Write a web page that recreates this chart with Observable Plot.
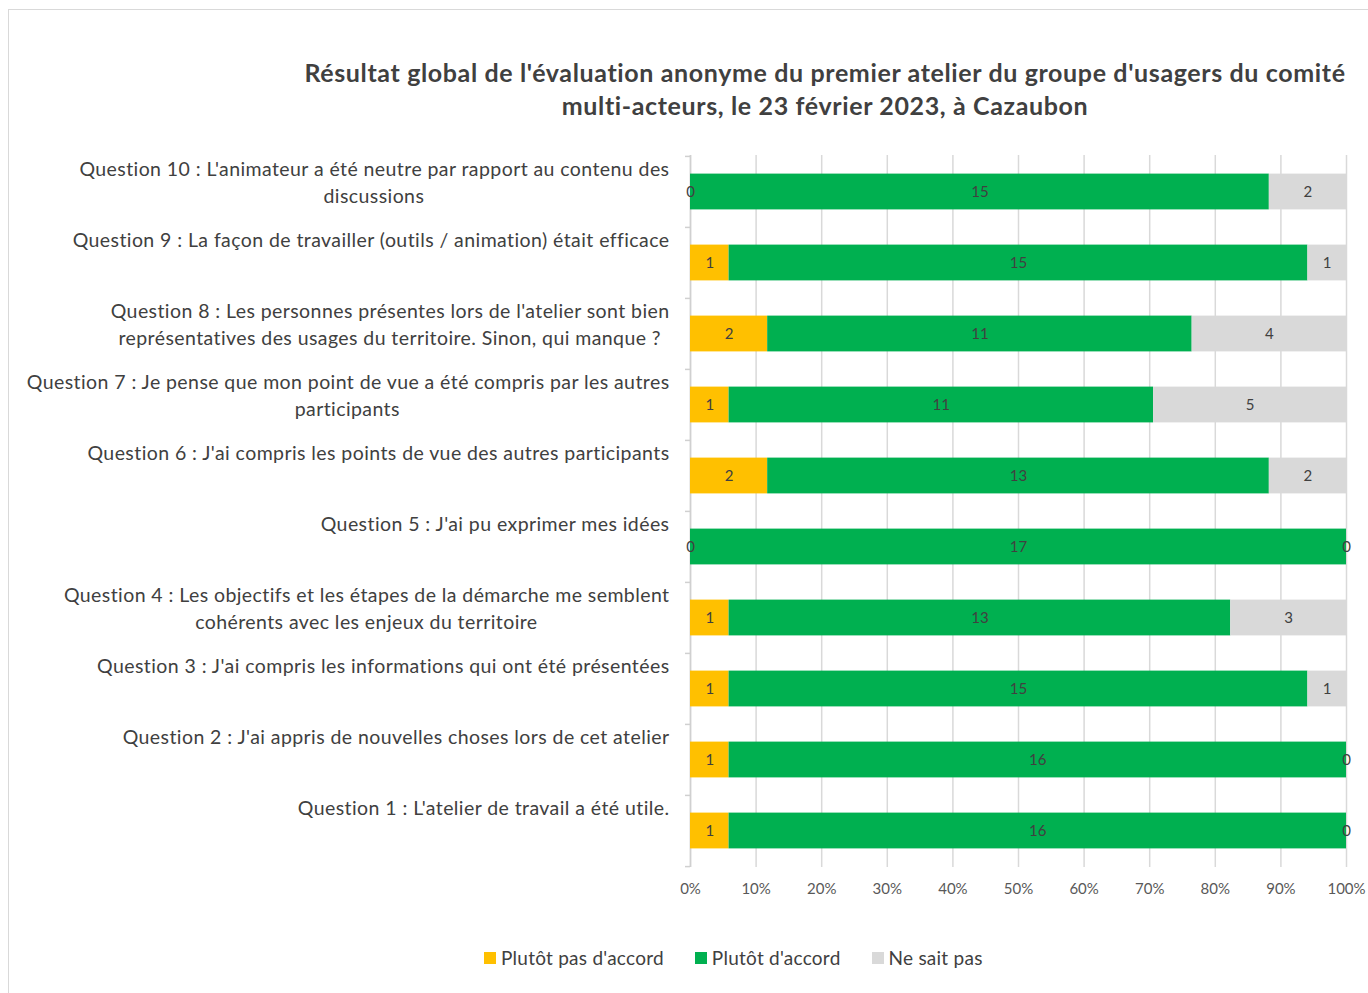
<!DOCTYPE html>
<html><head><meta charset="utf-8">
<script src="https://cdn.jsdelivr.net/npm/d3@7"></script>
<script src="https://cdn.jsdelivr.net/npm/@observablehq/plot@0.6"></script>
<style>
body{margin:0;background:#fff;font-family:Lato,"Open Sans",sans-serif;color:#404040;}
#frame{position:absolute;left:8px;top:9px;width:1400px;height:1000px;border:1px solid #d9d9d9;}
#title{position:absolute;left:225px;top:56px;width:1200px;text-align:center;font-size:25px;letter-spacing:0.63px;font-weight:bold;line-height:33px;color:#404040;}
#chart{position:absolute;left:0;top:140px;}
#legend{position:absolute;left:484px;top:946px;display:flex;font-size:19px;letter-spacing:0.25px;color:#404040;white-space:nowrap;}
#legend span.sw{display:inline-block;width:12px;height:12px;margin-right:5px;vertical-align:middle;position:relative;top:-2px}
#legend .it{margin-right:31px}
</style></head>
<body>
<div id="frame"></div>
<div id="title">Résultat global de l'évaluation anonyme du premier atelier du groupe d'usagers du comité<br>multi-acteurs, le 23 février 2023, à Cazaubon</div>
<div id="chart"></div>
<div id="legend"></div>
<script>
const questions = ["Question 10","Question 9","Question 8","Question 7","Question 6","Question 5","Question 4","Question 3","Question 2","Question 1"];
const labelLine1 = [
 "Question 10 : L'animateur a été neutre par rapport au contenu des",
 "Question 9 : La façon de travailler (outils / animation) était efficace",
 "Question 8 : Les personnes présentes lors de l'atelier sont bien",
 "Question 7 : Je pense que mon point de vue a été compris par les autres",
 "Question 6 : J'ai compris les points de vue des autres participants",
 "Question 5 : J'ai pu exprimer mes idées",
 "Question 4 : Les objectifs et les étapes de la démarche me semblent",
 "Question 3 : J'ai compris les informations qui ont été présentées",
 "Question 2 : J'ai appris de nouvelles choses lors de cet atelier",
 "Question 1 : L'atelier de travail a été utile."
];
const labelLine2 = [
 "discussions", "", "représentatives des usages du territoire. Sinon, qui manque ?",
 "participants", "", "", "cohérents avec les enjeux du territoire", "", "", ""
];
const categories = ["Plutôt pas d'accord","Plutôt d'accord","Ne sait pas"];
const colors = ["#FFC000","#00B050","#D9D9D9"];
const pasDaccord = [0,1,2,1,2,0,1,1,1,1];
const daccord    = [15,15,11,11,13,17,13,15,16,16];
const neSaitPas  = [2,1,4,5,2,0,3,1,0,0];
const xTicks = [0,0.1,0.2,0.3,0.4,0.5,0.6,0.7,0.8,0.9,1];

const series = [pasDaccord, daccord, neSaitPas];
const data = [];
questions.forEach((q,i)=>categories.forEach((c,j)=>data.push({q, cat:c, n: series[j][i]})));

const W = 1368, mL = 690, mR = 22, mT = 15, mB = 50, plotH = 712;
const H = mT + plotH + mB;
const step = plotH / questions.length;
const fontLab = "Lato";
const labSize = 19.5;
const ls = 0.42;
const canvas = document.createElement("canvas").getContext("2d");
canvas.font = `${labSize}px ${fontLab}`;
const measure = s => canvas.measureText(s).width + s.length * ls;

const labelData = questions.map((q,i)=>({q, l1: labelLine1[i], l2: labelLine2[i]}));
const secondLineMarks = labelData.filter(d=>d.l2).map(d =>
  Plot.text([d], {y: "q", text: "l2", frameAnchor: "left", textAnchor: "middle",
    dx: -21 - measure(d.l1)/2, dy: 5, fontSize: labSize, fill: "#404040"})
);

const stackOpts = {x: "n", y: "q", z: "cat", offset: "normalize", order: categories};

const chart = Plot.plot({
  width: W, height: H,
  marginLeft: mL, marginRight: mR, marginTop: mT, marginBottom: mB,
  style: {fontFamily: fontLab, color: "#404040", background: "transparent"},
  x: {domain: [0,1]},
  y: {domain: questions, padding: 0, axis: null},
  color: {domain: categories, range: colors},
  marks: [
    Plot.gridX(xTicks, {stroke: "#d9d9d9", strokeOpacity: 1, strokeWidth: 1.5}),
    Plot.ruleX([0], {stroke: "#d0d0d0", strokeWidth: 1.5}),
    Plot.axisY({tickSize: 5, tickFormat: () => "", dy: -step/2, stroke: "#d0d0d0", strokeWidth: 1.5, label: null}),
    Plot.axisY({ticks: [questions[questions.length-1]], tickSize: 5, tickFormat: () => "", dy: step/2, stroke: "#d0d0d0", strokeWidth: 1.5, label: null}),
    Plot.barX(data, Plot.stackX({...stackOpts, fill: "cat", insetTop: 17.6, insetBottom: 17.6})),
    Plot.text(data, Plot.stackX({...stackOpts, text: "n", fontSize: 15, fill: "#404040"})),
    Plot.axisX({ticks: xTicks, tickFormat: d3.format(".0%"), tickSize: 0, tickPadding: 16, fontSize: 15, fill: "#595959", label: null}),
    Plot.text(labelData, {y: "q", text: "l1", frameAnchor: "left", textAnchor: "end", dx: -21, dy: -22, fontSize: labSize, fill: "#404040"}),
    ...secondLineMarks
  ]
});
chart.querySelectorAll("text").forEach(t => {
  if (+t.closest("g").getAttribute("font-size") === labSize) t.style.letterSpacing = ls + "px";
});
document.getElementById("chart").appendChild(chart);

const legend = document.getElementById("legend");
categories.forEach((c,i)=>{
  const it = document.createElement("div");
  it.className = "it";
  it.innerHTML = `<span class="sw" style="background:${colors[i]}"></span>${c}`;
  legend.appendChild(it);
});
</script>
</body></html>
